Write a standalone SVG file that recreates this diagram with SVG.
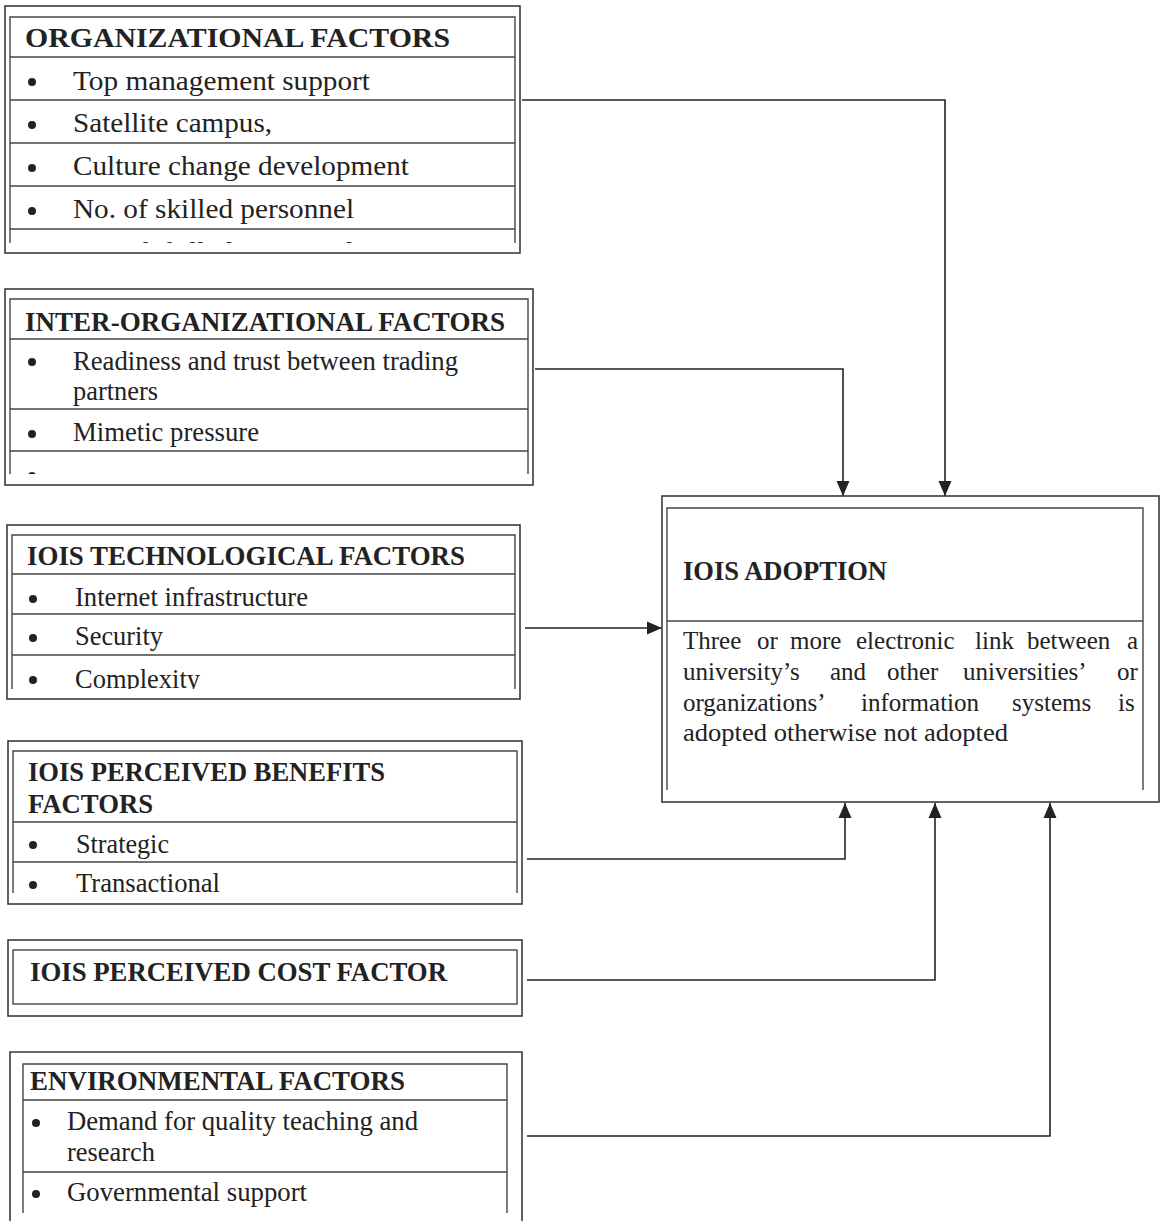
<svg xmlns="http://www.w3.org/2000/svg" width="1161" height="1221" viewBox="0 0 1161 1221">
  <defs>
    <style>
      .box{fill:none;stroke:#3a3a3a;stroke-width:1.6}
      .cell{fill:none;stroke:#454545;stroke-width:1.4}
      .h{font-family:"Liberation Serif","Times New Roman",serif;font-weight:bold;font-size:27px;fill:#222}
      .t{font-family:"Liberation Serif","Times New Roman",serif;font-size:27px;fill:#222}
      .p{font-family:"Liberation Serif","Times New Roman",serif;font-size:25px;fill:#222}
      .dot{fill:#222}
      .conn{fill:none;stroke:#222;stroke-width:1.6}
    </style>
    <marker id="arrow" markerUnits="userSpaceOnUse" markerWidth="16" markerHeight="14" refX="15" refY="7" orient="auto">
      <path d="M0,0.5 L15,7 L0,13.5 z" fill="#222"/>
    </marker>
    <clipPath id="clip-org"><rect x="10" y="0" width="505" height="243"/></clipPath>
    <clipPath id="clip-inter"><rect x="10" y="0" width="518" height="474"/></clipPath>
    <clipPath id="clip-tech"><rect x="12" y="0" width="503" height="689"/></clipPath>
  </defs>

  <rect width="1161" height="1221" fill="#ffffff"/>

  <!-- connectors -->
  <g id="connectors">
    <path class="conn" d="M522,100 H945 V496" marker-end="url(#arrow)"/>
    <path class="conn" d="M535,369 H843 V496" marker-end="url(#arrow)"/>
    <path class="conn" d="M525,628 H662" marker-end="url(#arrow)"/>
    <path class="conn" d="M527,859 H845 V803" marker-end="url(#arrow)"/>
    <path class="conn" d="M527,980 H935 V803" marker-end="url(#arrow)"/>
    <path class="conn" d="M527,1136 H1050 V803" marker-end="url(#arrow)"/>
  </g>

  <!-- organizational factors -->
  <g id="organizational">
    <rect class="box" x="5" y="6" width="515" height="247"/>
    <path class="cell" d="M10,243 V17 H515 V243 M10,57 H515 M10,100 H515 M10,143 H515 M10,186 H515 M10,229 H515"/>
    <text class="h" x="25" y="47" textLength="425" lengthAdjust="spacingAndGlyphs">ORGANIZATIONAL FACTORS</text>
    <circle class="dot" cx="32" cy="82" r="4"/>
    <text class="t" x="73" y="90" textLength="297" lengthAdjust="spacingAndGlyphs">Top management support</text>
    <circle class="dot" cx="32" cy="125" r="4"/>
    <text class="t" x="73" y="132" textLength="199" lengthAdjust="spacingAndGlyphs">Satellite campus,</text>
    <circle class="dot" cx="32" cy="168" r="4"/>
    <text class="t" x="73" y="175" textLength="336" lengthAdjust="spacingAndGlyphs">Culture change development</text>
    <circle class="dot" cx="32" cy="211" r="4"/>
    <text class="t" x="73" y="218" textLength="281" lengthAdjust="spacingAndGlyphs">No. of skilled personnel</text>
    <g clip-path="url(#clip-org)">
      <text class="t" x="73" y="261" textLength="281" lengthAdjust="spacingAndGlyphs">No. of skilled personnel</text>
    </g>
  </g>

  <!-- inter-organizational factors -->
  <g id="inter-organizational">
    <rect class="box" x="5" y="289" width="528" height="196"/>
    <path class="cell" d="M10,474 V299 H528 V474 M10,339 H528 M10,409 H528 M10,451 H528"/>
    <text class="h" x="25" y="331" textLength="480" lengthAdjust="spacingAndGlyphs">INTER-ORGANIZATIONAL FACTORS</text>
    <circle class="dot" cx="32" cy="362" r="4"/>
    <text class="t" x="73" y="370" textLength="385" lengthAdjust="spacingAndGlyphs">Readiness and trust between trading</text>
    <text class="t" x="73" y="400" textLength="85" lengthAdjust="spacingAndGlyphs">partners</text>
    <circle class="dot" cx="32" cy="434" r="4"/>
    <text class="t" x="73" y="441" textLength="186" lengthAdjust="spacingAndGlyphs">Mimetic pressure</text>
    <g clip-path="url(#clip-inter)">
      <circle class="dot" cx="32" cy="476" r="4"/>
    </g>
  </g>

  <!-- IOIS technological factors -->
  <g id="technological">
    <rect class="box" x="7" y="525" width="513" height="174"/>
    <path class="cell" d="M12,689 V535 H515 V689 M12,574 H515 M12,614 H515 M12,655 H515"/>
    <text class="h" x="27" y="565" textLength="438" lengthAdjust="spacingAndGlyphs">IOIS TECHNOLOGICAL FACTORS</text>
    <circle class="dot" cx="33" cy="599" r="4"/>
    <text class="t" x="75" y="606" textLength="233" lengthAdjust="spacingAndGlyphs">Internet infrastructure</text>
    <circle class="dot" cx="33" cy="638" r="4"/>
    <text class="t" x="75" y="645" textLength="88" lengthAdjust="spacingAndGlyphs">Security</text>
    <g clip-path="url(#clip-tech)">
      <circle class="dot" cx="33" cy="680" r="4"/>
      <text class="t" x="75" y="688" textLength="125" lengthAdjust="spacingAndGlyphs">Complexity</text>
    </g>
  </g>

  <!-- IOIS perceived benefits factors -->
  <g id="benefits">
    <rect class="box" x="8" y="741" width="514" height="163"/>
    <path class="cell" d="M13,893 V751 H517 V893 M13,822 H517 M13,862 H517"/>
    <text class="h" x="28" y="781" textLength="357" lengthAdjust="spacingAndGlyphs">IOIS PERCEIVED BENEFITS</text>
    <text class="h" x="28" y="813" textLength="125" lengthAdjust="spacingAndGlyphs">FACTORS</text>
    <circle class="dot" cx="33" cy="845" r="4"/>
    <text class="t" x="76" y="853" textLength="93" lengthAdjust="spacingAndGlyphs">Strategic</text>
    <circle class="dot" cx="33" cy="885" r="4"/>
    <text class="t" x="76" y="892" textLength="144" lengthAdjust="spacingAndGlyphs">Transactional</text>
  </g>

  <!-- IOIS perceived cost factor -->
  <g id="cost">
    <rect class="box" x="8" y="940" width="514" height="76"/>
    <rect class="cell" x="13" y="950" width="504" height="54"/>
    <text class="h" x="30" y="981" textLength="417" lengthAdjust="spacingAndGlyphs">IOIS PERCEIVED COST FACTOR</text>
  </g>

  <!-- environmental factors -->
  <g id="environmental">
    <path class="box" d="M10,1222 V1052 H522 V1222"/>
    <path class="cell" d="M23,1213 V1064 H507 V1213 M23,1100 H507 M23,1172 H507"/>
    <text class="h" x="30" y="1090" textLength="375" lengthAdjust="spacingAndGlyphs">ENVIRONMENTAL FACTORS</text>
    <circle class="dot" cx="36" cy="1123" r="4"/>
    <text class="t" x="67" y="1130" textLength="351" lengthAdjust="spacingAndGlyphs">Demand for quality teaching and</text>
    <text class="t" x="67" y="1161" textLength="88" lengthAdjust="spacingAndGlyphs">research</text>
    <circle class="dot" cx="36" cy="1194" r="4"/>
    <text class="t" x="67" y="1201" textLength="240" lengthAdjust="spacingAndGlyphs">Governmental support</text>
  </g>

  <!-- IOIS adoption -->
  <g id="adoption">
    <rect class="box" x="662" y="496" width="497" height="306"/>
    <path class="cell" d="M667,790 V508 H1143 V790 M667,621 H1143"/>
    <text class="h" x="683" y="580" textLength="204" lengthAdjust="spacingAndGlyphs">IOIS ADOPTION</text>
    <text class="p" y="649"><tspan x="683">Three</tspan><tspan x="757">or</tspan><tspan x="790">more</tspan><tspan x="856">electronic</tspan><tspan x="975">link</tspan><tspan x="1027">between</tspan><tspan x="1127">a</tspan></text>
    <text class="p" y="680"><tspan x="683">university’s</tspan><tspan x="830">and</tspan><tspan x="887">other</tspan><tspan x="963">universities’</tspan><tspan x="1117">or</tspan></text>
    <text class="p" y="711"><tspan x="683">organizations’</tspan><tspan x="861">information</tspan><tspan x="1012">systems</tspan><tspan x="1118">is</tspan></text>
    <text class="p" x="683" y="741" textLength="325" lengthAdjust="spacingAndGlyphs">adopted otherwise not adopted</text>
  </g>
</svg>
